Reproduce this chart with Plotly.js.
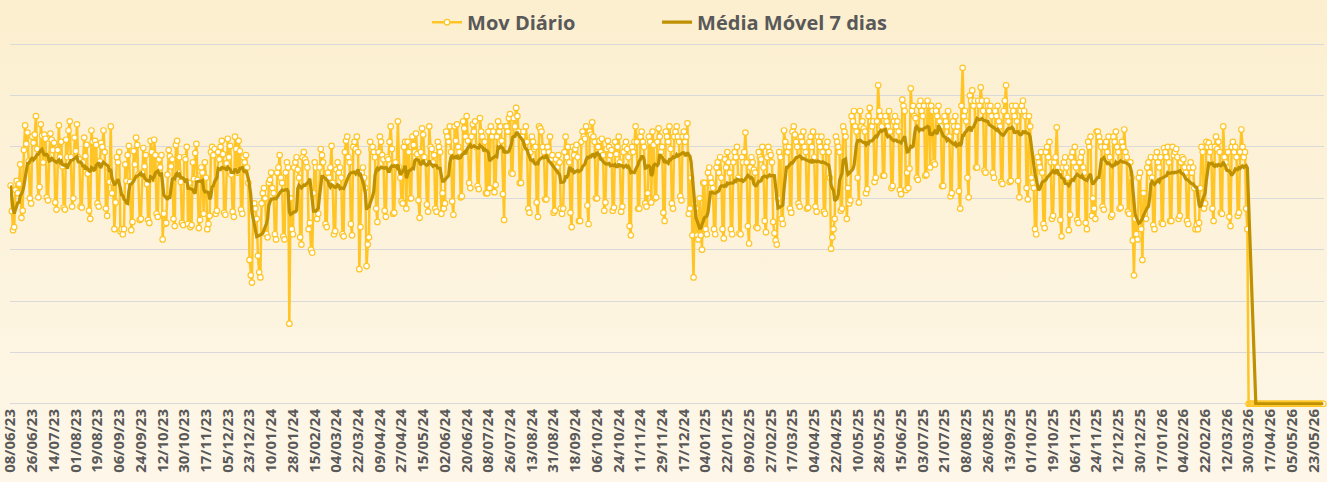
<!DOCTYPE html>
<html><head><meta charset="utf-8">
<script src="https://cdn.plot.ly/plotly-3.0.1.min.js"></script>
<style>
html,body{margin:0;padding:0;}
body{width:1327px;height:482px;background:linear-gradient(#FCEFCF,#FEF7E9);overflow:hidden;}
#chart{width:1327px;height:482px;}
</style></head><body><div id="chart"></div>
<script>
// Primeiro dia da série e passo dos rótulos (dias)
const startDate = [2023, 5, 8];
const tickStepDays = 18;
const tickFormat = '%d/%m/%y';
const serieNome = 'Mov Diário';
const mediaNome = 'Média Móvel 7 dias';
const janelaMedia = 7;

// Movimento diário (08/06/23 .. 29/03/26), uma linha por semana (seg..dom)
const movDiario = [
2125,1875,1690,1720,
2080,2170,2050,2140,2330,1810,1880,
2470,2710,2530,2640,2360,2000,1950,
2600,2540,2620,2800,2480,2010,2110,
2720,2610,2350,2620,2580,2010,1980,
2390,2630,2570,2470,2540,1960,1890,
2470,2710,2400,2550,2310,1910,1890,
2570,2400,2660,2750,2400,1920,2000,
2590,2460,2720,2400,2380,1920,1910,
2350,2590,2410,2520,2240,1880,1800,
2660,2550,2290,2560,2520,1950,1920,
2360,2540,2500,2660,2450,1900,1830,
2300,2160,2700,2050,2150,1700,1960,
2400,2350,2450,1680,1700,1650,1700,
2330,2170,2420,2510,2160,1690,1770,
2460,2330,2590,2520,2230,1790,1800,
2250,2490,2310,2420,2140,1790,1760,
2560,2450,2190,2570,2420,1850,1820,
2380,2300,2420,1600,1850,1750,1760,
2230,2470,2410,2310,2380,1800,1730,
2520,2560,2250,2400,2160,1760,1740,
2400,2380,2500,1750,2150,1720,1740,
2350,2190,2440,2530,2180,1710,1790,
2300,2250,1850,2350,2200,1700,1750,
1830,2450,2500,2420,2480,1850,1880,
2450,2380,2500,2560,2430,1860,1840,
2340,2580,2400,2510,2230,1870,1820,
2600,2480,2250,2560,2460,1890,1850,
2400,2350,2420,2300,2150,1400,1250,
1180,1900,1950,1900,1800,1440,1280,
1230,1950,2050,2100,2000,1650,1620,
2150,2180,2250,2100,2050,1650,1600,
2250,2300,2420,2200,2150,1630,1600,
2250,2350,2300,780,2000,1700,1650,
2300,2350,2400,2280,2200,1620,1550,
2400,2450,2380,2350,2300,1700,1760,
1500,1470,2050,2350,2300,1800,1850,
2300,2480,2420,2350,2200,1750,1720,
2250,2200,2300,2510,2150,1650,1680,
2280,2350,2250,2300,2200,1650,1630,
2450,2560,2600,2400,2350,1750,1640,
2500,2550,2480,2600,2450,1310,1720,
2250,2300,2200,2100,1340,1550,1620,
2550,2480,2500,2450,2400,1900,1770,
2450,2600,2550,2420,2380,1880,1820,
2400,2380,2550,2700,2480,1850,1860,
2350,2300,2750,2300,2200,1970,1950,
2500,2550,1900,2550,2450,2000,2000,
2600,2520,2450,2630,2430,1980,1810,
2450,2680,2620,2400,2350,1940,1870,
2700,2500,2480,2350,2420,1900,1870,
2550,2500,2450,1850,2050,1900,1950,
2650,2600,2550,2700,2450,1970,1840,
2700,2560,2720,2500,2450,2010,2020,
2750,2680,2600,2800,2560,2150,2100,
2600,2720,2650,2750,2500,2120,2090,
2780,2650,2600,2550,2550,2050,2050,
2650,2100,2700,2600,2650,2060,2130,
2600,2750,2650,2700,2560,2040,1790,
2700,2700,2650,2780,2820,2250,2240,
2780,2700,2880,2800,2650,2150,2150,
2600,2650,2500,2700,2550,1900,1860,
2450,2600,2550,2480,2500,1960,1820,
2700,2680,2650,2500,2450,1990,1990,
2500,2450,2600,2380,2420,1860,1880,
2380,2300,2420,2350,1900,1850,1900,
2450,2600,2400,2500,2350,1860,1720,
2500,2420,2480,2520,2400,1780,1780,
2550,2650,2600,2580,2700,1930,1750,
2650,2620,2740,2600,2550,2000,2000,
2500,2560,2450,2580,2420,1880,1960,
2480,2560,2500,2420,2470,1880,1910,
2550,2430,2500,2600,2350,1870,1920,
2450,2500,2550,2480,2400,1730,1640,
2500,2450,2550,2700,2550,1900,1900,
2600,2650,2550,2500,1950,1920,2050,
2600,2550,1960,2650,2520,2000,2010,
2550,2680,2600,2450,2500,1860,1780,
2650,2600,2550,2700,2480,1950,1900,
2600,2650,2700,2600,2550,2020,1980,
2600,2650,2550,2600,2730,1850,1900,
2200,1640,1230,1950,1900,1640,1600,
2000,1640,1500,2150,2150,1700,1650,
2250,2300,2200,2150,2100,1700,1650,
2300,2350,2250,2400,2200,1700,1610,
2380,2300,2450,2350,2250,1700,1650,
2350,2450,2400,2500,2200,1660,1650,
2400,2350,2450,2640,2350,1730,1560,
2300,2400,2350,2280,2250,1720,1710,
2450,2400,2380,2500,2300,1780,1670,
2400,2500,2450,2420,2350,1770,1660,
1590,1550,2000,2450,2400,1800,1750,
2660,2550,2500,2450,2500,1900,1860,
2650,2700,2620,2550,2500,1950,1920,
2600,2550,2650,2500,2450,1900,1910,
2550,2600,2500,2650,2400,1920,1870,
2600,2550,2500,2600,2450,1870,1850,
2500,2550,2450,2200,1510,1620,1700,
1800,2600,2550,2500,2450,1880,1900,
2700,2650,2600,1800,2100,1950,1980,
2800,2750,2850,2700,2650,2200,1960,
2850,2700,2750,2680,2650,2050,2090,
2800,2880,2750,2700,2750,2160,2200,
2750,3100,2850,2800,2700,2220,2220,
2800,2750,2700,2850,2650,2100,2120,
2750,2800,2700,2750,2650,2080,2040,
2960,2900,2850,2080,2250,2100,2290,
3070,2850,2900,2800,2780,2200,2180,
2900,2950,2850,2800,2900,2220,2230,
2950,2900,2300,2900,2850,2350,2330,
2850,2800,2900,2750,2700,2120,2120,
2800,2750,2700,2850,2600,2020,2050,
2750,2700,2800,2650,2700,2070,1900,
2900,3270,2800,2850,2750,2200,2010,
3000,2950,3050,2900,2950,2300,2300,
2950,2900,3080,2950,2850,2270,2250,
2950,2900,2850,2900,2800,2250,2200,
2850,2800,2900,2750,2700,2160,2140,
2850,2950,3100,2800,2750,2160,2170,
2900,2850,2800,2900,2750,2170,2010,
2850,2900,2950,2850,2800,2100,1990,
2800,2700,2200,2150,2100,1700,1650,
2400,2350,2300,2450,2250,1750,1710,
2450,2500,2400,2550,2350,1800,1830,
2350,2400,2690,2300,2250,1790,1630,
2300,2350,2400,2300,2200,1690,1840,
2400,2450,2350,2500,2300,1790,1760,
2350,2400,2450,2300,2250,1760,1700,
2550,2500,2600,1830,2000,1900,1800,
2650,2650,2600,2550,2500,1920,1890,
2500,2550,2450,2600,2400,1820,1840,
2600,2550,2650,2500,2450,1900,1910,
2550,2500,2670,2450,2400,1870,1850,
2350,2200,1590,1250,1800,1650,1600,
2200,2250,1700,1400,2050,1850,1800,
2300,2350,2250,2400,2200,1740,1700,
2400,2450,2350,2300,2400,1760,1750,
2490,2450,2400,2500,2350,1780,1780,
2500,2420,2450,2480,2400,1800,1830,
2350,2400,2380,2300,2250,1780,1750,
2300,2350,2250,2300,2100,1700,1740,
1700,1760,2100,2500,2450,1900,1950,
2550,2500,2540,2450,2500,1900,1780,
2500,2600,2480,2550,2450,1860,1850,
2700,2400,2350,2300,2450,1820,1730,
2500,2550,2450,2500,2400,1830,1860,
2450,2670,2500,2400,2450,1900,1700
];
// 30/03/26 .. 31/05/26 sem movimento
const semMovimento = [
0,0,0,0,0,0,0,0,0,0,0,0,0,0,0,0,0,0,0,0,0,
0,0,0,0,0,0,0,0,0,0,0,0,0,0,0,0,0,0,0,0,0,
0,0,0,0,0,0,0,0,0,0,0,0,0,0,0,0,0,0,0,0,0
];

const valores = movDiario.concat(semMovimento);
const DAY = 864e5;
const t0 = Date.UTC(startDate[0], startDate[1], startDate[2]);
const iso = ms => new Date(ms).toISOString().slice(0, 16).replace('T', ' ');
const datas = valores.map((_, i) => iso(t0 + i * DAY).slice(0, 10));
const media = valores.map((_, i) => {
  const s = Math.max(0, i - janelaMedia + 1);
  let sum = 0; for (let j = s; j <= i; j++) sum += valores[j];
  return sum / (i - s + 1);
});

const traces = [
  {type:'scatter', mode:'lines+markers', name:serieNome, x:datas, y:valores,
   line:{color:'#FFC526', width:2.5},
   marker:{size:5.5, color:'#FFFFFF', line:{color:'#FFC526', width:1.2}},
   cliponaxis:false},
  {type:'scatter', mode:'lines', name:mediaNome, x:datas, y:media,
   line:{color:'#BF9000', width:3.2}, cliponaxis:false}
];

const layout = {
  width:1327, height:482,
  paper_bgcolor:'rgba(0,0,0,0)', plot_bgcolor:'rgba(0,0,0,0)',
  margin:{l:10, r:3, t:39, b:77},
  showlegend:true,
  legend:{orientation:'h', x:0.3174, xanchor:'left', y:1.0574, yanchor:'middle',
    font:{family:'Open Sans', size:20, color:'#595959', weight:700},
    entrywidth:185, itemwidth:30, bgcolor:'rgba(0,0,0,0)', borderwidth:0},
  xaxis:{type:'date', range:[iso(t0 - DAY/2), iso(t0 + (valores.length - 0.5) * DAY)],
    tick0:iso(t0).slice(0,10), dtick:tickStepDays * DAY, tickformat:tickFormat,
    tickangle:-90, tickfont:{family:'Open Sans', size:15, color:'#595959', weight:700},
    ticklabeloverflow:'allow',
    showgrid:false, showline:false, zeroline:false, ticks:''},
  yaxis:{range:[-12, 3512], dtick:500, showticklabels:false, gridcolor:'#D9D9D9', gridwidth:1,
    zeroline:false, showline:false},
  hovermode:false
};

Plotly.newPlot('chart', traces, layout, {staticPlot:true, displayModeBar:false});
</script></body></html>
